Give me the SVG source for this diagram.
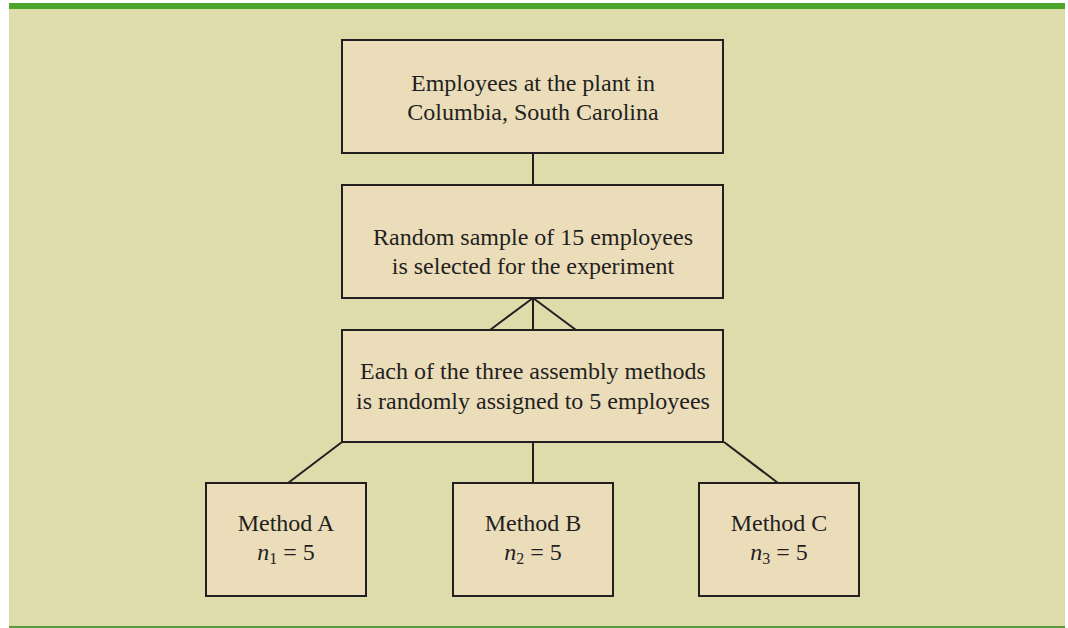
<svg xmlns="http://www.w3.org/2000/svg" width="1068" height="628" viewBox="0 0 1068 628">
<style>
.box{fill:#EBDDBA;stroke:#231F20;stroke-width:2}
.t{font-family:"Liberation Serif",serif;font-size:24px;fill:#231F20;text-anchor:middle}
.c{stroke:#231F20;stroke-width:2;fill:none}
</style>
<rect x="0" y="0" width="1068" height="628" fill="#ffffff"/>
<rect x="9" y="3" width="1056" height="625" fill="#DEDCAA"/>
<rect x="9" y="3" width="1056" height="6" fill="#4CA62E"/>
<rect x="9" y="626" width="1056" height="2" fill="#5A9A3A"/>
<g id="connectors">
<line class="c" x1="533" y1="153" x2="533" y2="185"/>
<line class="c" x1="533" y1="298" x2="490" y2="330"/>
<line class="c" x1="533" y1="298" x2="533" y2="330"/>
<line class="c" x1="533" y1="298" x2="576" y2="330"/>
<line class="c" x1="342" y1="442" x2="288" y2="483"/>
<line class="c" x1="533" y1="442" x2="533" y2="483"/>
<line class="c" x1="724" y1="442" x2="778" y2="483"/>
</g>
<g id="population">
<rect class="box" x="342" y="40" width="381" height="113"/>
<text class="t" x="533" y="91">Employees at the plant in</text>
<text class="t" x="533" y="120">Columbia, South Carolina</text>
</g>
<g id="sample">
<rect class="box" x="342" y="185" width="381" height="113"/>
<text class="t" x="533" y="245">Random sample of 15 employees</text>
<text class="t" x="533" y="274">is selected for the experiment</text>
</g>
<g id="assignment">
<rect class="box" x="342" y="330" width="381" height="112"/>
<text class="t" x="533" y="379">Each of the three assembly methods</text>
<text class="t" x="533" y="409">is randomly assigned to 5 employees</text>
</g>
<g id="methodA">
<rect class="box" x="206" y="483" width="160" height="113"/>
<text class="t" x="286" y="531">Method A</text>
<text class="t" x="286" y="560"><tspan font-style="italic">n</tspan><tspan font-size="16" dy="4">1</tspan><tspan dy="-4"> = 5</tspan></text>
</g>
<g id="methodB">
<rect class="box" x="453" y="483" width="160" height="113"/>
<text class="t" x="533" y="531">Method B</text>
<text class="t" x="533" y="560"><tspan font-style="italic">n</tspan><tspan font-size="16" dy="4">2</tspan><tspan dy="-4"> = 5</tspan></text>
</g>
<g id="methodC">
<rect class="box" x="699" y="483" width="160" height="113"/>
<text class="t" x="779" y="531">Method C</text>
<text class="t" x="779" y="560"><tspan font-style="italic">n</tspan><tspan font-size="16" dy="4">3</tspan><tspan dy="-4"> = 5</tspan></text>
</g>
</svg>
